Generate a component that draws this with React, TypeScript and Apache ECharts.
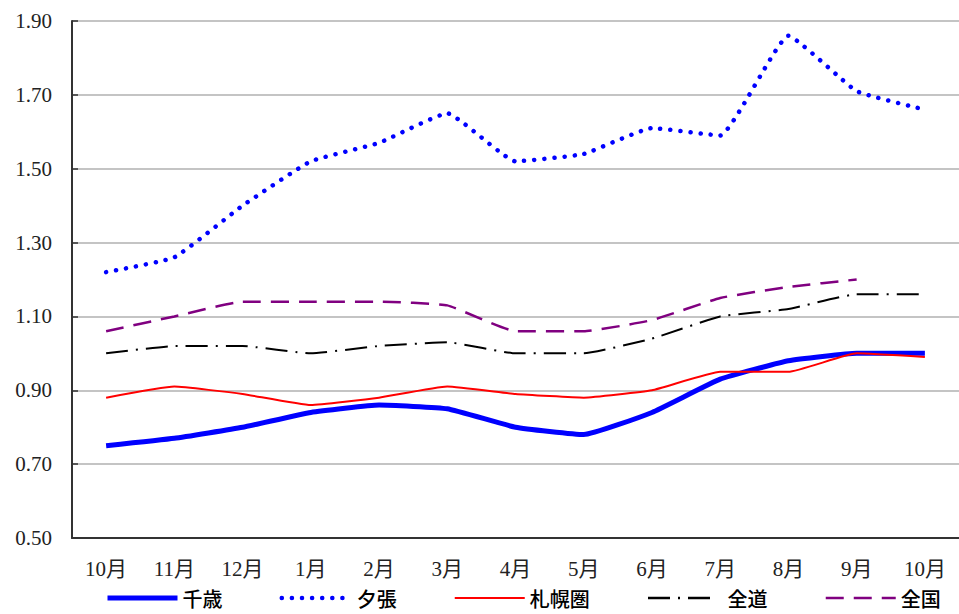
import React, { useEffect, useRef } from "react";
import * as echarts from "echarts";

const categories = ["10月", "11月", "12月", "1月", "2月", "3月", "4月", "5月", "6月", "7月", "8月", "9月", "10月"];
const chitose = [0.75, 0.77, 0.80, 0.84, 0.86, 0.85, 0.80, 0.78, 0.84, 0.93, 0.98, 1.00, 1.00];
const yubari = [1.22, 1.26, 1.40, 1.52, 1.57, 1.65, 1.52, 1.54, 1.61, 1.59, 1.86, 1.71, 1.66];
const sapporo = [0.88, 0.91, 0.89, 0.86, 0.88, 0.91, 0.89, 0.88, 0.90, 0.95, 0.95, 1.00, 0.99];
const zendo = [1.00, 1.02, 1.02, 1.00, 1.02, 1.03, 1.00, 1.00, 1.04, 1.10, 1.12, 1.16, 1.16];
const zenkoku = [1.06, 1.10, 1.14, 1.14, 1.14, 1.13, 1.06, 1.06, 1.09, 1.15, 1.18, 1.20, null];

export default function App() {
  const ref = useRef<HTMLDivElement>(null);
  useEffect(() => {
    if (!ref.current) return;
    const chart = echarts.init(ref.current, null, { renderer: "svg" });
    const serif = "'Liberation Serif', 'Noto Sans CJK JP', serif";
    const sans = "'Noto Sans CJK JP', sans-serif";
    const smooth = 0.12;
    chart.setOption({
      animation: false,
      backgroundColor: "#ffffff",
      grid: { left: 72, top: 21, width: 890, height: 517, containLabel: false },
      legend: {
        top: 588,
        left: 105,
        padding: 0,
        itemWidth: 70,
        itemHeight: 14,
        itemGap: 57,
        itemStyle: { opacity: 0 },
        formatter: (name: string) => (name === "全道" ? " " + name : name),
        textStyle: { fontFamily: sans, fontSize: 20, fontWeight: 500, color: "#000" },
        data: [
          { name: "千歳", lineStyle: { width: 5 } },
          { name: "夕張", lineStyle: { width: 4.5 } },
          { name: "札幌圏", lineStyle: { width: 2 } },
          { name: "全道", lineStyle: { width: 2.5 } },
          { name: "全国", lineStyle: { width: 2.5 } },
        ],
      },
      xAxis: {
        type: "category",
        data: categories,
        boundaryGap: true,
        axisLine: { lineStyle: { color: "#333", width: 2 } },
        axisTick: { inside: true, length: 6, lineStyle: { color: "#333", width: 1.5 } },
        axisLabel: { fontFamily: serif, fontSize: 21, color: "#222", margin: 20 },
      },
      yAxis: {
        type: "value",
        min: 0.5,
        max: 1.9,
        interval: 0.2,
        axisLine: { show: true, lineStyle: { color: "#333", width: 2 } },
        axisTick: { show: true, inside: true, length: 6, lineStyle: { color: "#333", width: 1.5 } },
        axisLabel: {
          fontFamily: serif,
          fontSize: 21,
          color: "#222",
          margin: 20,
          formatter: (v: number) => v.toFixed(2),
        },
        splitLine: { lineStyle: { color: "#b0b0b0", width: 1.5 } },
      },
      series: [
        {
          name: "千歳",
          type: "line",
          data: chitose,
          smooth,
          symbol: "none",
          lineStyle: { color: "#0000ff", width: 5 },
          itemStyle: { color: "#0000ff" },
        },
        {
          name: "夕張",
          type: "line",
          data: yubari,
          smooth,
          symbol: "none",
          lineStyle: { color: "#0000ff", width: 4.5, type: [0.1, 10], cap: "round" },
          itemStyle: { color: "#0000ff" },
        },
        {
          name: "札幌圏",
          type: "line",
          data: sapporo,
          smooth,
          symbol: "none",
          lineStyle: { color: "#ff0000", width: 2 },
          itemStyle: { color: "#ff0000" },
        },
        {
          name: "全道",
          type: "line",
          data: zendo,
          smooth,
          symbol: "none",
          lineStyle: { color: "#000000", width: 2, type: [22, 8, 2, 8] },
          itemStyle: { color: "#000000" },
        },
        {
          name: "全国",
          type: "line",
          data: zenkoku,
          smooth,
          symbol: "none",
          lineStyle: { color: "#800080", width: 2.5, type: [18, 10] },
          itemStyle: { color: "#800080" },
        },
      ],
    });
    return () => chart.dispose();
  }, []);
  return <div ref={ref} style={{ width: 959, height: 614, position: "absolute", left: 0, top: 0 }} />;
}
